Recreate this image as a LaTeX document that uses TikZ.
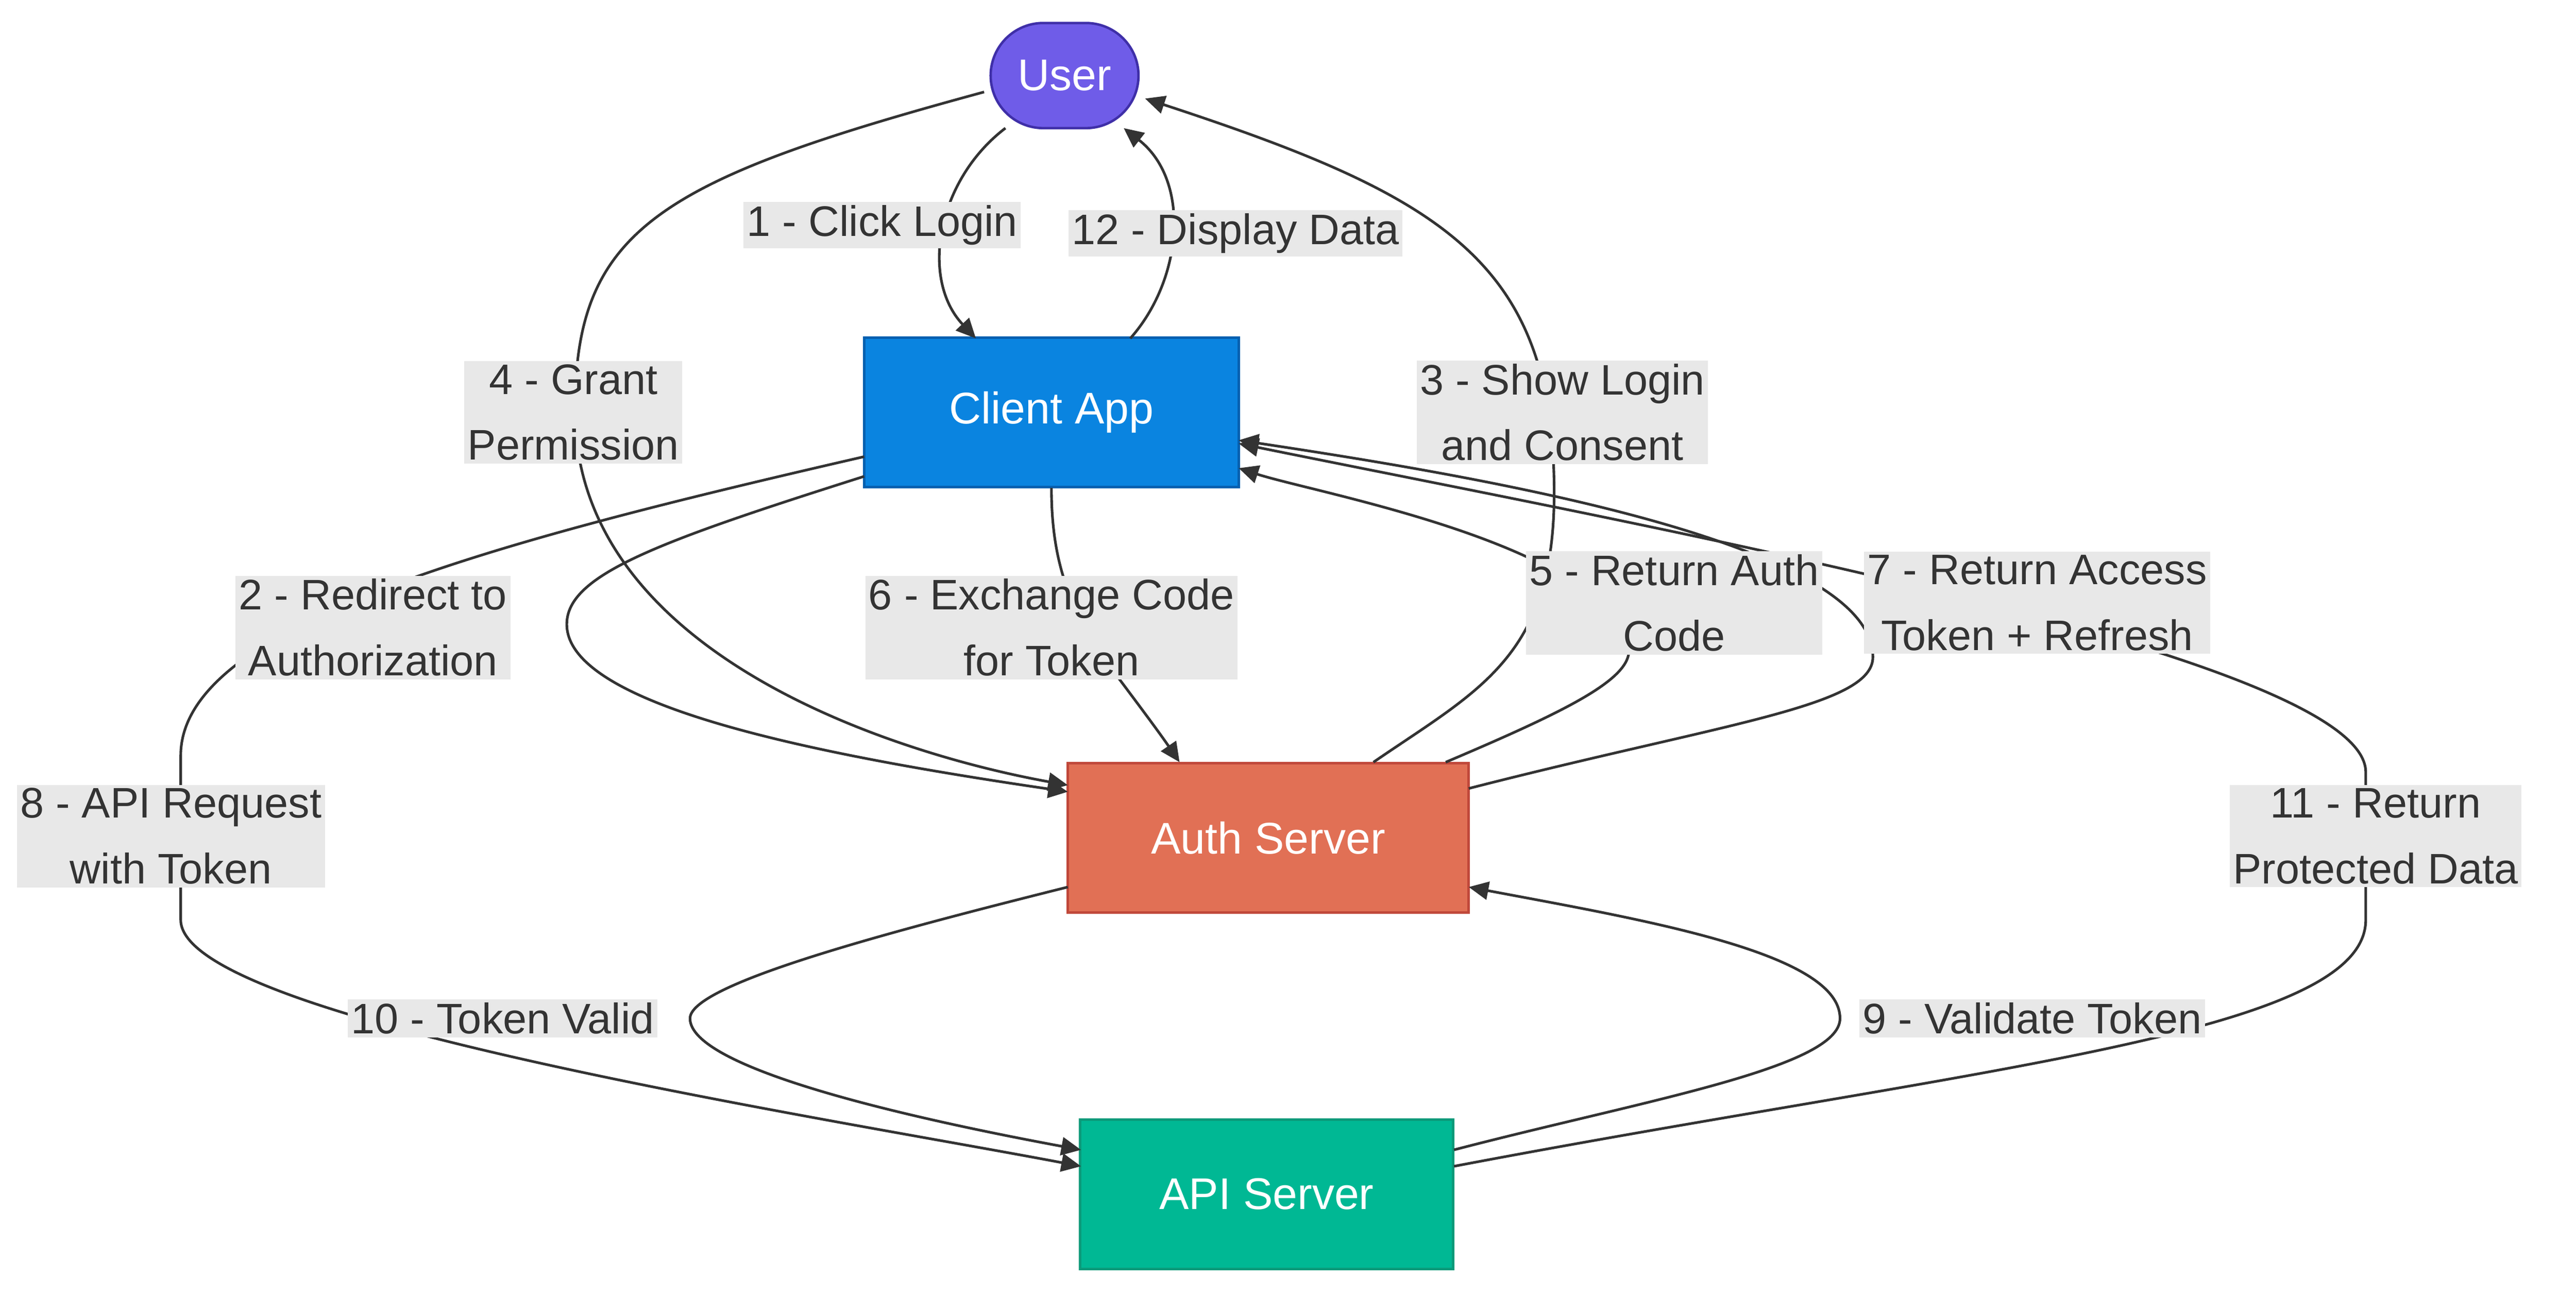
\documentclass[tikz,border=0pt]{standalone}
\usepackage{fontspec}
\setmainfont{Liberation Sans}
\usetikzlibrary{arrows.meta,shapes.misc}
\definecolor{ln}{HTML}{333333}
\definecolor{lb}{HTML}{E8E8E8}
\definecolor{c0}{HTML}{6F5CE8}\definecolor{c0d}{HTML}{3F2FA8}
\definecolor{c1}{HTML}{0A84E0}\definecolor{c1d}{HTML}{0660B0}
\definecolor{c2}{HTML}{E17055}\definecolor{c2d}{HTML}{C0483A}
\definecolor{c3}{HTML}{00B894}\definecolor{c3d}{HTML}{0A9A7A}
\begin{document}
\begin{tikzpicture}[x=1pt,y=-1pt,
  e/.style={draw=ln,line width=1.6pt,-{Triangle[length=12pt,width=11pt]}},
  lab/.style={fill=lb,text=ln,font=\fontsize{26}{40}\selectfont,align=center,inner xsep=2pt,inner ysep=2pt},
  box/.style={draw,line width=1.5pt,text=white,font=\fontsize{27}{32}\selectfont,minimum height=91pt}]
\useasboundingbox (0,0) rectangle (1568,798);
\node[box,rounded rectangle,fill=c0,draw=c0d,minimum width=98pt,minimum height=64pt,inner xsep=4pt] (user) at (648,46) {User};
\node[box,fill=c1,draw=c1d,minimum width=228pt] (client) at (640,251) {Client App};
\node[box,fill=c2,draw=c2d,minimum width=244pt] (auth) at (772,510) {Auth Server};
\node[box,fill=c3,draw=c3d,minimum width=227pt] (api) at (771,727) {API Server};
% edges
\draw[e] (612,78) .. controls (570,110) and (560,170) .. (594,206);
\draw[e] (688,206) .. controls (720,170) and (725,110) .. (684,78);
\draw[e] (599,56) .. controls (400,110) and (350,140) .. (350,250) .. controls (350,400) and (550,460) .. (650,478);
\draw[e] (836,464) .. controls (900,420) and (946,400) .. (946,300) .. controls (946,160) and (880,120) .. (697,60);
\draw[e] (526,290) .. controls (400,330) and (345,350) .. (345,380) .. controls (345,430) and (500,460) .. (650,482);
\draw[e] (526,278) .. controls (300,330) and (110,380) .. (110,460) -- (110,560) .. controls (110,620) and (500,680) .. (658,710);
\draw[e] (640,297) .. controls (640,340) and (650,370) .. (675,405) .. controls (690,425) and (705,445) .. (718,464);
\draw[e] (880,464) .. controls (960,430) and (1000,410) .. (990,390) .. controls (970,330) and (800,300) .. (754,285);
\draw[e] (894,480) .. controls (1050,440) and (1140,430) .. (1140,400) .. controls (1140,330) and (900,290) .. (754,268);
\draw[e] (885,710) .. controls (1200,650) and (1440,630) .. (1440,560) -- (1440,470) .. controls (1440,400) and (1000,320) .. (754,270);
\draw[e] (885,700) .. controls (1000,670) and (1120,650) .. (1120,620) .. controls (1120,580) and (1000,560) .. (894,540);
\draw[e] (650,540) .. controls (530,570) and (420,600) .. (420,620) .. controls (420,650) and (550,680) .. (658,700);
% labels
\node[lab] (l1) at (537,137) {1 - Click Login};
\node[lab] (l12) at (752,142) {12 - Display Data};
\node[lab] (l4) at (349,251) {4 - Grant\\Permission};
\node[lab] (l3) at (951,251) {3 - Show Login\\and Consent};
\node[lab] (l2) at (227,382) {2 - Redirect to\\Authorization};
\node[lab] (l6) at (640,382) {6 - Exchange Code\\for Token};
\node[lab] (l5) at (1019,367) {5 - Return Auth\\Code};
\node[lab] (l7) at (1240,367) {7 - Return Access\\Token + Refresh};
\node[lab] (l8) at (104,509) {8 - API Request\\with Token};
\node[lab] (l11) at (1446,509) {11 - Return\\Protected Data};
\node[lab] (l10) at (306,620) {10 - Token Valid};
\node[lab] (l9) at (1237,620) {9 - Validate Token};
\end{tikzpicture}
\end{document}
